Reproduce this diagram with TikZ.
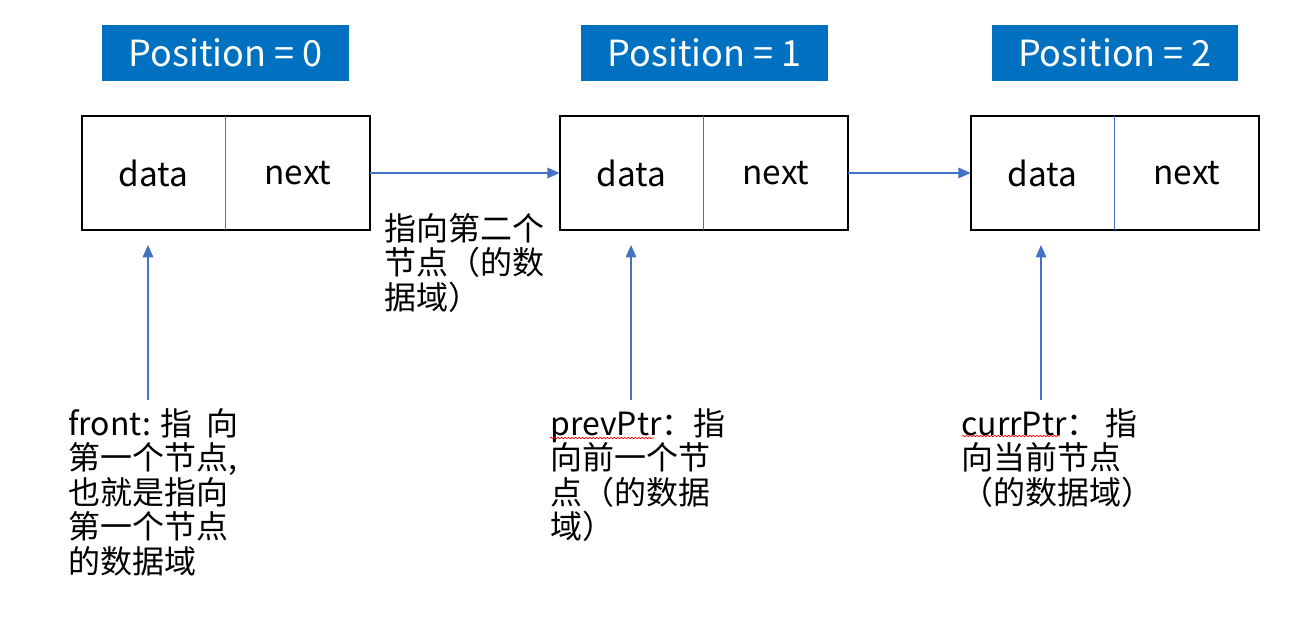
\documentclass[tikz,border=0pt]{standalone}
\usepackage{fontspec}
\setmainfont{Noto Sans CJK SC}
\usetikzlibrary{arrows.meta, positioning, decorations.pathmorphing}
\definecolor{posblue}{RGB}{0,112,192}
\definecolor{linkblue}{RGB}{68,114,196}
\tikzset{
  poslabel/.style={fill=posblue, text=white, minimum width=4.94cm, minimum height=1.12cm,
    inner sep=0pt, font=\fontsize{20.5}{25}\selectfont},
  cell/.style={minimum width=2.87cm, minimum height=2.26cm, inner sep=0pt,
    font=\fontsize{19}{23}\selectfont},
  link/.style={linkblue, line width=0.8pt, -{Triangle[length=7pt,width=6pt]}},
  note/.style={anchor=north west, inner sep=0pt, align=left,
    font=\fontsize{18.2}{19.6}\selectfont},
  spell/.style={red, line width=0.4pt, decorate,
    decoration={snake, amplitude=0.4pt, segment length=2pt}}
}

\begin{document}
\begin{tikzpicture}[x=0.02cm, y=-0.02cm]
\useasboundingbox (0,0) rectangle (1313,623);
% position headers
\node[poslabel] (h0) at (225.5,53) {Position = 0};
\node[poslabel] (h1) at (704.5,53) {Position = 1};
\node[poslabel] (h2) at (1115,53) {Position = 2};
% list nodes
\node[cell] (d0) at (153.75,173) {data};
\node[cell, right=0pt of d0] (x0) {next};
\node[cell] (d1) at (631.75,173) {data};
\node[cell, right=0pt of d1] (x1) {next};
\node[cell] (d2) at (1042.75,173) {data};
\node[cell, right=0pt of d2] (x2) {next};
\foreach \i in {0,1,2} {
  \draw[line width=1.1pt] (d\i.north west) rectangle (x\i.south east);
  \draw[linkblue, line width=0.6pt] (d\i.north east) -- (d\i.south east);
}
\draw[link] (x0.east) -- (d1.west);
\draw[link] (x1.east) -- (d2.west);
% pointers
\coordinate (p0) at (148,400);
\coordinate (t0) at (148,245);
\coordinate (p1) at (631,400);
\coordinate (t1) at (631,245);
\coordinate (p2) at (1041,400);
\coordinate (t2) at (1041,245);
\draw[link] (p0) -- (t0);
\draw[link] (p1) -- (t1);
\draw[link] (p2) -- (t2);
% notes
\node[note] (front) at (68,408) {front: 指~~向\\第一个节点,\\也就是指向\\第一个节点\\的数据域};
\node[note] (second) at (384,213) {指向第二个\\节点（的数\\据域）};
\node[note] (prev) at (550,408) {prevPtr：指\\向前一个节\\点（的数据\\域）};
\node[note] (curr) at (961,408) {currPtr：~指\\向当前节点\\（的数据域）};
\draw[spell] (550,438) -- (654,438);
\draw[spell] (962,436) -- (1060,436);
\end{tikzpicture}
\end{document}
